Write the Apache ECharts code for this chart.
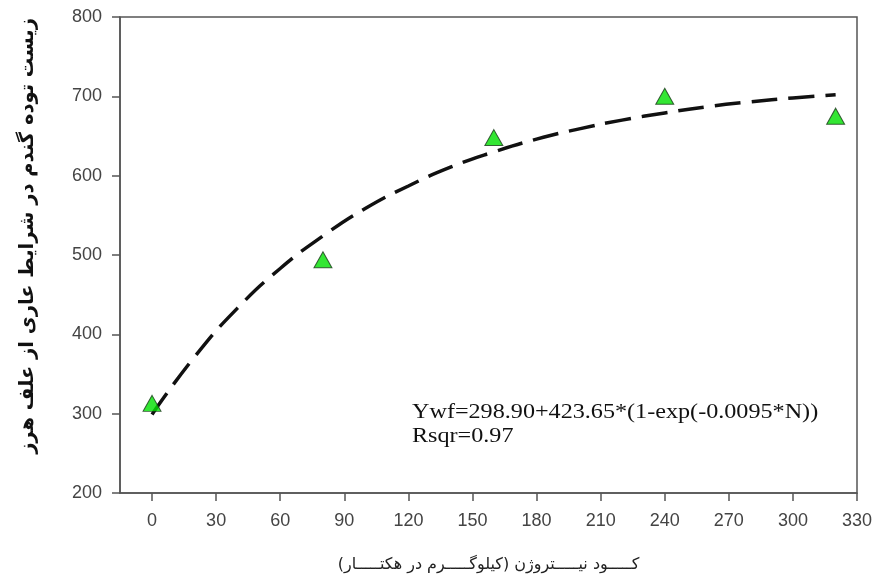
<!DOCTYPE html>
<html>
<head>
<meta charset="utf-8">
<script src="https://cdn.jsdelivr.net/npm/echarts@6/dist/echarts.min.js"></script>
<style>
  html, body { margin: 0; padding: 0; background: #fff; }
  #chart { width: 877px; height: 578px; }
</style>
</head>
<body>
<div id="chart"></div>
<script>
// observed points (nitrogen kg/ha, biomass)
const nitrogen = [0, 80, 160, 240, 320]
const biomass = [313, 494, 648, 700, 675]

// fitted curve
const curveN = [0, 20, 40, 60, 80, 100, 120, 140, 160, 180, 200, 220, 240, 260, 280, 300, 320]
const curveY = [299, 372, 433, 483, 524, 559, 587, 611, 630, 646, 659, 670, 679, 687, 693, 698, 702]

const xTicks = [0, 30, 60, 90, 120, 150, 180, 210, 240, 270, 300, 330]

const chart = echarts.init(document.getElementById('chart'))

const axisColor = '#555'

const option = {
  animation: false,
  backgroundColor: '#fff',
  grid: {
    left: 120,
    right: 20,
    top: 17,
    bottom: 85,
    show: true,
    borderColor: axisColor,
    borderWidth: 1.5,
    backgroundColor: 'transparent'
  },
  xAxis: {
    type: 'value',
    min: -15,
    max: 330,
    name: 'کـــــود نیـــــتروژن (کیلوگـــــرم در هکتـــــار)',
    nameLocation: 'middle',
    nameGap: 64,
    nameTextStyle: { fontFamily: 'DejaVu Sans', fontSize: 16, color: '#222' },
    axisLine: { onZero: false, lineStyle: { color: axisColor, width: 1.5 } },
    axisTick: { show: true, length: 8, customValues: xTicks, lineStyle: { color: axisColor, width: 1.5 } },
    axisLabel: { customValues: xTicks, margin: 19, fontFamily: 'Liberation Sans', fontSize: 18, color: '#444' },
    splitLine: { show: false }
  },
  yAxis: {
    type: 'value',
    min: 200,
    max: 800,
    interval: 100,
    name: 'زیست توده گندم در شرایط عاری از علف هرز',
    nameLocation: 'middle',
    nameGap: 82,
    nameRotate: 90,
    nameTextStyle: { fontFamily: 'DejaVu Sans', fontSize: 19.5, fontWeight: 'bold', color: '#111', padding: [0, 0, 0, 38] },
    axisLine: { onZero: false, lineStyle: { color: axisColor, width: 1.5 } },
    axisTick: { show: true, length: 8, lineStyle: { color: axisColor, width: 1.5 } },
    axisLabel: { margin: 18, fontFamily: 'Liberation Sans', fontSize: 18, color: '#444' },
    splitLine: { show: false }
  },
  series: [
    {
      name: 'fit',
      type: 'line',
      data: curveN.map((n, i) => [n, curveY[i]]),
      smooth: true,
      showSymbol: false,
      lineStyle: { color: '#111', width: 3.5, type: [26, 11] },
      z: 2
    },
    {
      name: 'observed',
      type: 'scatter',
      data: nitrogen.map((n, i) => [n, biomass[i]]),
      symbol: 'triangle',
      symbolSize: [18, 16],
      itemStyle: { color: '#00e000', borderColor: '#1a3a1a', borderWidth: 1 },
      z: 3
    }
  ],
  graphic: [
    {
      type: 'text',
      x: 412,
      y: 400,
      scaleX: 1.15,
      style: {
        text: 'Ywf=298.90+423.65*(1-exp(-0.0095*N))\nRsqr=0.97',
        font: '21px "Liberation Serif"',
        lineHeight: 24,
        fill: '#111'
      }
    }
  ]
}

chart.setOption(option)
</script>
</body>
</html>
